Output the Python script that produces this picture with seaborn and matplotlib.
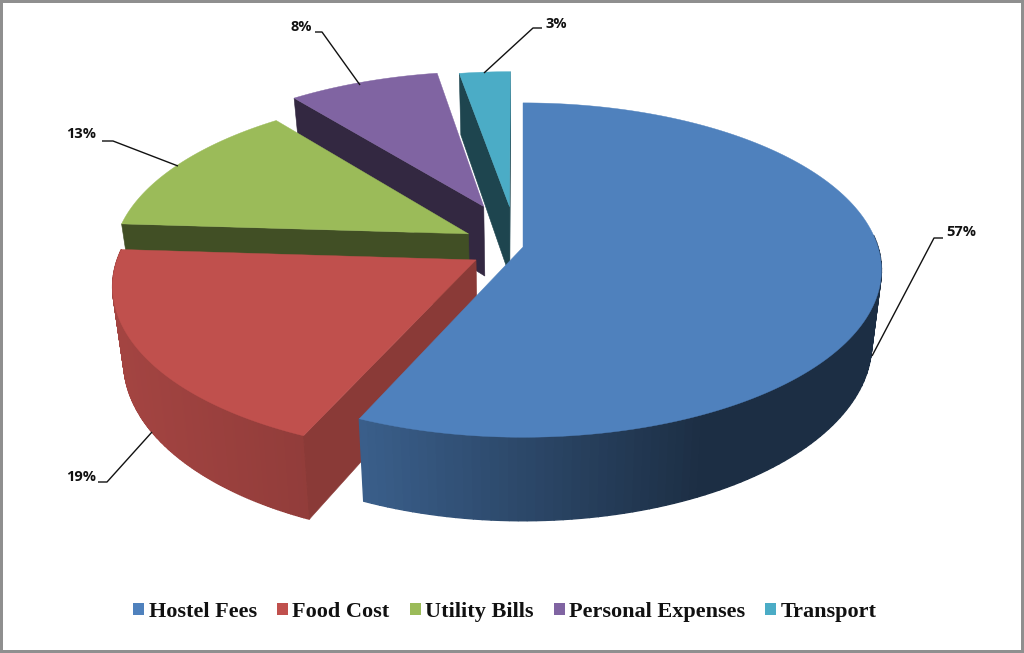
import numpy as np
import seaborn as sns
import matplotlib.pyplot as plt
from matplotlib.patches import Patch

categories = ['Hostel Fees', 'Food Cost', 'Utility Bills', 'Personal Expenses', 'Transport']
# estimated shares behind the rounded labels
shares = [56.6, 19.4, 13.3, 8, 2.7]
pct_labels = ['57%', '19%', '13%', '8%', '3%']
explode = [0, 0.15, 0.175, 0.28, 0.255]
hex_colors = ['#4f81bd', '#c0504d', '#9bbb59', '#8064a2', '#4bacc6']
cut_shade = [0.5, 0.72, 0.42, 0.4, 0.4]
nudge_x = [0, -1, 0, 0, -6]

# leader lines + label spots, in pixels of the picture
leaders = [
    [(872, 356), (934, 238), (943, 238)],
    [(152, 432), (107, 482), (98, 482)],
    [(178, 166), (113, 141), (102, 141)],
    [(360, 85), (322, 32), (315, 32)],
    [(484, 73), (533, 28), (542, 28)],
]
label_spots = [(946, 232), (96, 477), (96, 134), (312, 27), (545, 24)]
label_align = ['left', 'right', 'right', 'right', 'left']

CX, CY = 523, 247
RX, RY = 355, 164
PERSP = 0.138
DEPTH = 72


def top(u, v):
    s = 1 / (1 + PERSP * v)
    return CX + RX * u * s, CY - RY * v * s


def bottom(u, v):
    s = 1 / (1 + PERSP * v)
    x, y = top(u, v)
    return CX + (x - CX) * 0.973, y + DEPTH * s


def wall_shade(x):
    return np.interp(x, [120, 360, 700, 880], [0.85, 0.73, 0.36, 0.36])


sns.set_theme(style='white')
palette = sns.color_palette(hex_colors)

fig = plt.figure(figsize=(10.24, 6.53), dpi=100, facecolor='white',
                 edgecolor='#8f8f8f', linewidth=3)
ax = fig.add_axes([0, 0, 1, 1])

wedges, _ = ax.pie(shares, explode=explode, startangle=90, counterclock=False, radius=1)
slices = [(w.center, w.r, w.theta1, w.theta2) for w in wedges]
for w in wedges:
    w.remove()

ax.set_aspect('auto')
ax.set_xlim(0, 1024)
ax.set_ylim(653, 0)
ax.axis('off')

# back slices first, blue last because it sits over the red cut
for i in [4, 3, 2, 1, 0]:
    (cu, cv), r, t1, t2 = slices[i]
    col = np.array(palette[i])
    t = np.radians(np.linspace(t1, t2, 160))
    u = cu + r * np.cos(t)
    v = cv + r * np.sin(t)
    tx, ty = top(u, v)
    bx, by = bottom(u, v)
    tx, bx = tx + nudge_x[i], bx + nudge_x[i]

    # outer rim, only the part facing front
    for j in range(len(t) - 1):
        if np.sin(t[j]) > 0.06 and np.sin(t[j + 1]) > 0.06:
            continue
        c = col * wall_shade(tx[j])
        ax.fill([tx[j], tx[j + 1], bx[j + 1], bx[j]], [ty[j], ty[j + 1], by[j + 1], by[j]],
                color=c, lw=1.0, zorder=i * -10 + 50)

    ax0, ay0 = top(cu, cv)
    bx0, by0 = bottom(cu, cv)
    ax0, bx0 = ax0 + nudge_x[i], bx0 + nudge_x[i]
    mid = len(t) // 2

    # a cut face shows only when the slice top lies above its edge on screen
    for k in [0, -1]:
        ex, ey = tx[k] - ax0, ty[k] - ay0
        side = ex * (ty[mid] - ay0) - ey * (tx[mid] - ax0)
        if ex * side >= 0:
            continue
        ax.fill([ax0, tx[k], bx[k], bx0], [ay0, ty[k], by[k], by0],
                color=col * cut_shade[i], lw=0.4, zorder=i * -10 + 51)

    ax.fill(np.r_[ax0, tx], np.r_[ay0, ty], color=col, lw=0.3, zorder=i * -10 + 52)

for line, spot, text, ha in zip(leaders, label_spots, pct_labels, label_align):
    xs, ys = zip(*line)
    ax.plot(xs, ys, color='#111111', lw=1.0, zorder=60, solid_capstyle='butt')
    ax.text(spot[0], spot[1], text, ha=ha, va='center', fontsize=10.5, fontweight='bold',
            family='Open Sans', color='#111111', zorder=61)

handles = [Patch(facecolor=c, edgecolor='none') for c in palette]
ax.legend(handles, categories, ncol=5, loc='center', bbox_to_anchor=(505, 612),
          bbox_transform=ax.transData, frameon=False, handlelength=0.5, handleheight=0.5,
          handletextpad=0.2, columnspacing=0.9,
          prop={'family': 'Liberation Serif', 'weight': 'bold', 'size': 16},
          labelcolor='#111111')

fig.savefig('out.png', dpi=100, facecolor='white', edgecolor='#8f8f8f')
